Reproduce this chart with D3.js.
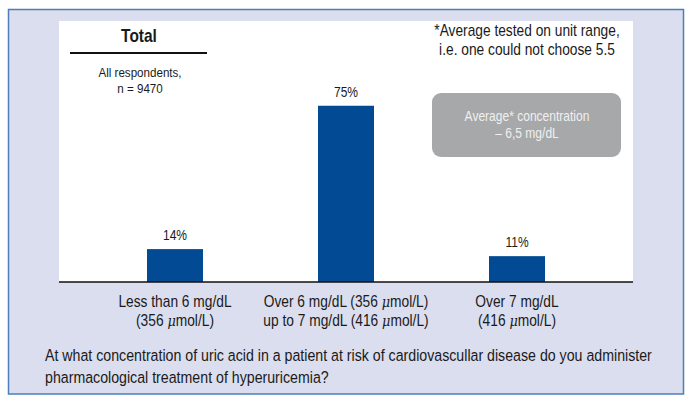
<!DOCTYPE html>
<html>
<head>
<meta charset="utf-8">
<script src="https://cdn.jsdelivr.net/npm/d3@7"></script>
<style>
  html, body { margin: 0; padding: 0; background: #ffffff; }
  svg text { font-family: "Liberation Sans", Arial, Helvetica, sans-serif; fill: #1a1a1a; }
</style>
</head>
<body>
<svg id="chart" width="693" height="404"></svg>
<script>
// ---- data ----
const categories = ["Less than 6 mg/dL", "Over 6 mg/dL", "Over 7 mg/dL"];
const values = [14, 75, 11];
const valueLabels = ["14%", "75%", "11%"];
const categoryLines = [
  [["Less than 6 mg/dL"], ["(356 ", "\u03bc", "mol/L)"]],
  [["Over 6 mg/dL (356 ", "\u03bc", "mol/L)"], ["up to 7 mg/dL (416 ", "\u03bc", "mol/L)"]],
  [["Over 7 mg/dL"], ["(416 ", "\u03bc", "mol/L)"]]
];
const title = "Total";
const subtitleLines = ["All respondents,", "n = 9470"];
const footnoteLines = ["*Average tested on unit range,", "i.e. one could not choose 5.5"];
const boxLines = ["Average* concentration", "\u2013 6,5 mg/dL"];
const questionLines = [
  "At what concentration of uric acid in a patient at risk of cardiovascullar disease do you administer",
  "pharmacological treatment of hyperuricemia?"
];

// ---- layout ----
const K = 0.86; // horizontal condensing to imitate a narrow typeface
const svg = d3.select("#chart");
const panel = { left: 59, top: 21, right: 633, bottom: 282 };

function textBlock(x0, y0, lines, opts) {
  const g = svg.append("g").attr("transform", `translate(${x0},${y0}) scale(${K},1)`);
  const t = g.append("text")
    .attr("text-anchor", opts.anchor || "middle")
    .attr("font-size", opts.size || 14)
    .attr("font-weight", opts.weight || "normal");
  if (opts.fill) t.style("fill", opts.fill);
  lines.forEach((parts, li) => {
    (Array.isArray(parts) ? parts : [parts]).forEach((p, pi) => {
      const ts = t.append("tspan").text(p);
      if (pi === 0) ts.attr("x", 0).attr("y", li * (opts.lh || 18));
      if (p === "\u03bc") ts.attr("font-style", "italic").attr("font-family", "DejaVu Serif, serif").attr("font-size", (opts.size || 14) - 1);
    });
  });
  return g;
}

// outer frame
svg.append("rect")
  .attr("x", 8.5).attr("y", 9.5).attr("width", 675).attr("height", 384.5)
  .attr("fill", "#dbdeee").attr("stroke", "#4d7dbd").attr("stroke-width", 1.5);

// white plot panel
svg.append("rect")
  .attr("x", panel.left).attr("y", panel.top)
  .attr("width", panel.right - panel.left).attr("height", panel.bottom - panel.top)
  .attr("fill", "#ffffff");

// scales
const x = d3.scalePoint().domain(categories).range([175, 517]).padding(0);
const y = d3.scaleLinear().domain([0, 100]).range([panel.bottom, panel.bottom - 235]);
const barW = 56;

// bars
svg.selectAll("rect.bar").data(values).join("rect")
  .attr("class", "bar")
  .attr("x", (d, i) => x(categories[i]) - barW / 2)
  .attr("y", d => y(d))
  .attr("width", barW)
  .attr("height", d => y(0) - y(d))
  .attr("fill", "#024a93");

// value labels
values.forEach((v, i) => {
  textBlock(x(categories[i]), y(v) - 9, [valueLabels[i]], { size: 14 });
});

// x axis (baseline only)
const xAxis = d3.axisBottom(x).tickSize(0).tickFormat("");
const axG = svg.append("g").attr("transform", `translate(0,${panel.bottom})`).call(xAxis);
axG.select(".domain").attr("d", `M${panel.left},0H${panel.right}`).attr("stroke", "#111").attr("stroke-width", 1.5);

// category labels
categoryLines.forEach((lines, i) => {
  textBlock(x(categories[i]), 307, lines, { size: 16, lh: 19 });
});

// title block
textBlock(139, 42, [title], { size: 18, weight: "bold" });
svg.append("line").attr("x1", 70).attr("x2", 207).attr("y1", 53).attr("y2", 53)
  .attr("stroke", "#111").attr("stroke-width", 2);
textBlock(140, 77, subtitleLines, { size: 13.5, lh: 16 });

// footnote
textBlock(527, 36, footnoteLines, { size: 16, lh: 19 });

// gray box
svg.append("rect").attr("x", 432).attr("y", 93).attr("width", 189).attr("height", 64)
  .attr("rx", 9).attr("ry", 9).attr("fill", "#a7a8aa");
textBlock(527, 121, boxLines, { size: 14, lh: 17, fill: "#f0f0f0" });

// question
textBlock(45, 361, questionLines, { size: 16.5, lh: 22, anchor: "start" });
</script>
</body>
</html>
